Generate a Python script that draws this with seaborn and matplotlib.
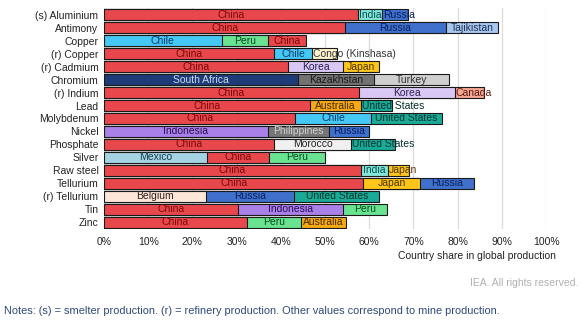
import matplotlib
matplotlib.use("Agg")
import matplotlib.pyplot as plt
import seaborn as sns
import pandas as pd
import numpy as np

minerals = ["(s) Aluminium", "Antimony", "Copper", "(r) Copper", "(r) Cadmium",
            "Chromium", "(r) Indium", "Lead", "Molybdenum", "Nickel", "Phosphate",
            "Silver", "Raw steel", "Tellurium", "(r) Tellurium", "Tin", "Zinc"]

first_country = ["China", "China", "Chile", "China", "China", "South Africa", "China",
                 "China", "China", "Indonesia", "China", "Mexico", "China", "China",
                 "Belgium", "China", "China"]
first_share = [57.4, 54.6, 26.6, 38.5, 41.7, 44.0, 57.6, 46.5, 43.3, 37.0, 38.5,
               23.3, 58.1, 58.7, 23.1, 30.4, 32.3]

second_country = ["India", "Russia", "Peru", "Chile", "Korea", "Kazakhstan", "Korea",
                  "Australia", "Chile", "Philippines", "Morocco", "China", "India",
                  "Japan", "Russia", "Indonesia", "Peru"]
second_share = [5.6, 22.7, 10.5, 8.5, 12.4, 17.0, 21.8, 11.6, 17.0, 13.8, 17.4,
                14.0, 6.1, 12.8, 20.0, 23.6, 12.3]

third_country = ["Russia", "Tajikistan", "China", "Congo (Kinshasa)", "Japan", "Turkey",
                 "Canada", "United States", "United States", "Russia", "United States",
                 "Peru", "Japan", "Russia", "United States", "Peru", "Australia"]
third_share = [5.7, 11.9, 8.6, 5.8, 8.1, 17.1, 6.5, 7.1, 16.2, 9.2, 10.0, 12.7,
               4.9, 12.2, 19.2, 10.1, 10.1]

x_ticks = [0, 10, 20, 30, 40, 50, 60, 70, 80, 90, 100]

# fill colour and label colour for each producing country
fill = {
    "China": "#E8474C", "India": "#82E6DC", "Russia": "#3E70CC",
    "Tajikistan": "#A9C6EE", "Chile": "#45C8F5", "Peru": "#6AE391",
    "Congo (Kinshasa)": "#FFF2CC", "Korea": "#D9C8F5", "Japan": "#FFC61A",
    "South Africa": "#1E3D78", "Kazakhstan": "#727272", "Turkey": "#CFCFCF",
    "Canada": "#F4A793", "Australia": "#F6A917", "United States": "#1AAA98",
    "Indonesia": "#A97FE8", "Philippines": "#767676", "Morocco": "#F0F0F0",
    "Mexico": "#A4D4E4", "Belgium": "#FDE6D8",
}
ink = {
    "China": "#7A0A0A", "India": "#0B4F4A", "Russia": "#0B1F5C",
    "Tajikistan": "#1F3050", "Chile": "#0B3A6A", "Peru": "#0B4A24",
    "Congo (Kinshasa)": "#333333", "Korea": "#2A2050", "Japan": "#4A3300",
    "South Africa": "#C8D8F0", "Kazakhstan": "#1A1A1A", "Turkey": "#333333",
    "Canada": "#5A1A10", "Australia": "#4A2A00", "United States": "#04332D",
    "Indonesia": "#2A1050", "Philippines": "#D0D0D0", "Morocco": "#222222",
    "Mexico": "#1A3A4A", "Belgium": "#332222",
}

df = pd.DataFrame({
    "mineral": minerals,
    "s1": first_share, "s2": second_share, "s3": third_share,
    "c1": first_country, "c2": second_country, "c3": third_country,
})
df["cum1"] = df["s1"]
df["cum2"] = df["s1"] + df["s2"]
df["cum3"] = df["cum2"] + df["s3"]

sns.set_theme(style="white")
plt.rcParams["font.family"] = ["Liberation Sans", "DejaVu Sans"]

fig = plt.figure(figsize=(5.84, 3.22), dpi=100)
ax = fig.add_axes([0.178, 0.29, 0.757, 0.684])

# stacked bars: draw cumulative totals from the outermost layer inwards
for cum, cty in [("cum3", "c3"), ("cum2", "c2"), ("cum1", "c1")]:
    pal = {m: fill[c] for m, c in zip(df["mineral"], df[cty])}
    sns.barplot(data=df, y="mineral", x=cum, hue="mineral", palette=pal,
                legend=False, orient="h", width=0.86, dodge=False,
                edgecolor="#1a1a1a", linewidth=0.8, saturation=1, ax=ax, zorder=3)

ax.set_xlim(0, 100)
ax.set_ylim(16.5, -0.5)

# country labels: centred when they fit, otherwise starting at the segment's left edge
fig.canvas.draw()
renderer = fig.canvas.get_renderer()
px_per_unit = ax.get_window_extent().width / 100.0
for i, row in df.iterrows():
    starts = [0, row["cum1"], row["cum2"]]
    for (s, c), left in zip([("s1", "c1"), ("s2", "c2"), ("s3", "c3")], starts):
        t = ax.text(left + row[s] / 2, i, row[c], ha="center", va="center",
                    fontsize=7.5, color=ink[row[c]], zorder=5)
        w = t.get_window_extent(renderer).width
        if w > row[s] * px_per_unit - 2:
            t.set_x(left + 0.2)
            t.set_ha("left")

ax.set_xticks(x_ticks)
ax.set_xticklabels([f"{t}%" for t in x_ticks], fontsize=7.5, color="#222222")
ax.tick_params(axis="y", labelsize=7.5, labelcolor="#222222", pad=4, length=0)
ax.tick_params(axis="x", pad=6, length=0)
ax.set_xlabel("")
ax.set_ylabel("")
ax.xaxis.grid(True, color="#DCDCDC", linewidth=0.9, zorder=0)
ax.set_axisbelow(True)
for sp in ax.spines.values():
    sp.set_visible(False)

fig.text(0.951, 1 - 256 / 322, "Country share in global production",
         ha="right", va="center", fontsize=7.5, color="#222222")
fig.text(0.99, 1 - 283 / 322, "IEA. All rights reserved.",
         ha="right", va="center", fontsize=7.5, color="#B0B0B0")
fig.text(0.006, 1 - 311 / 322,
         "Notes: (s) = smelter production. (r) = refinery production. Other values correspond to mine production.",
         ha="left", va="center", fontsize=7.9, color="#2E4A7A")

fig.savefig("out.png", dpi=100)
